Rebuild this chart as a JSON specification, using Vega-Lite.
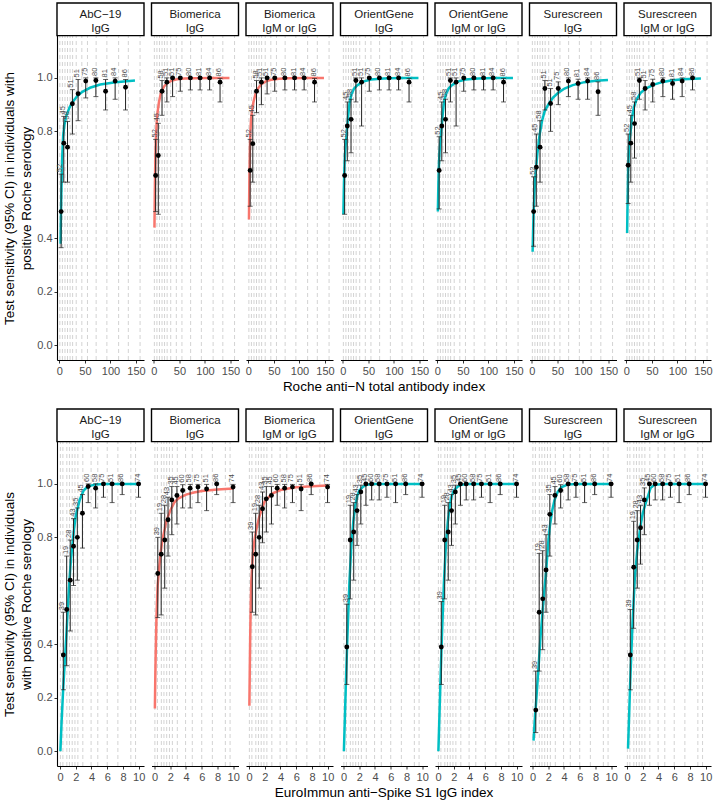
{
  "$schema": "https://vega.github.io/schema/vega-lite/v6.json",
  "background": "white",
  "padding": {"left": 2, "right": 2, "top": 2, "bottom": 2},
  "config": {
    "font": "Liberation Sans",
    "view": {"stroke": null},
    "axis": {"labelFont": "Liberation Sans", "labelFontSize": 11, "labelColor": "#4d4d4d", "labelOverlap": false, "labelFlush": false, "tickColor": "#333333", "tickSize": 3, "domainColor": "black", "domainWidth": 1.1, "titleFont": "Liberation Sans", "titleFontSize": 13.5, "titleFontWeight": "normal", "titleColor": "black", "labelPadding": 2, "titlePadding": 3, "titleLineHeight": 17, "grid": false}
  },
  "datasets": {
    "top": [
      {"t":"p1","k":"st","lab":"AbC−19\nIgG"},
      {"t":"p2","k":"st","lab":"Biomerica\nIgG"},
      {"t":"p3","k":"st","lab":"Biomerica\nIgM or IgG"},
      {"t":"p4","k":"st","lab":"OrientGene\nIgG"},
      {"t":"p5","k":"st","lab":"OrientGene\nIgM or IgG"},
      {"t":"p6","k":"st","lab":"Surescreen\nIgG"},
      {"t":"p7","k":"st","lab":"Surescreen\nIgM or IgG"},

      {"t":"p1","k":"gd","x":1},{"t":"p1","k":"gd","x":6},{"t":"p1","k":"gd","x":11},{"t":"p1","k":"gd","x":16},{"t":"p1","k":"gd","x":21},{"t":"p1","k":"gd","x":26},{"t":"p1","k":"gd","x":33},{"t":"p1","k":"gd","x":44},{"t":"p1","k":"gd","x":55},{"t":"p1","k":"gd","x":72},{"t":"p1","k":"gd","x":93},{"t":"p1","k":"gd","x":116},{"t":"p1","k":"gd","x":135},{"t":"p1","k":"gd","x":158},
      {"t":"p2","k":"gd","x":1},{"t":"p2","k":"gd","x":6},{"t":"p2","k":"gd","x":11},{"t":"p2","k":"gd","x":16},{"t":"p2","k":"gd","x":21},{"t":"p2","k":"gd","x":26},{"t":"p2","k":"gd","x":33},{"t":"p2","k":"gd","x":44},{"t":"p2","k":"gd","x":55},{"t":"p2","k":"gd","x":72},{"t":"p2","k":"gd","x":93},{"t":"p2","k":"gd","x":116},{"t":"p2","k":"gd","x":135},{"t":"p2","k":"gd","x":158},
      {"t":"p3","k":"gd","x":1},{"t":"p3","k":"gd","x":6},{"t":"p3","k":"gd","x":11},{"t":"p3","k":"gd","x":16},{"t":"p3","k":"gd","x":21},{"t":"p3","k":"gd","x":26},{"t":"p3","k":"gd","x":33},{"t":"p3","k":"gd","x":44},{"t":"p3","k":"gd","x":55},{"t":"p3","k":"gd","x":72},{"t":"p3","k":"gd","x":93},{"t":"p3","k":"gd","x":116},{"t":"p3","k":"gd","x":135},{"t":"p3","k":"gd","x":158},
      {"t":"p4","k":"gd","x":1},{"t":"p4","k":"gd","x":6},{"t":"p4","k":"gd","x":11},{"t":"p4","k":"gd","x":16},{"t":"p4","k":"gd","x":21},{"t":"p4","k":"gd","x":26},{"t":"p4","k":"gd","x":33},{"t":"p4","k":"gd","x":44},{"t":"p4","k":"gd","x":55},{"t":"p4","k":"gd","x":72},{"t":"p4","k":"gd","x":93},{"t":"p4","k":"gd","x":116},{"t":"p4","k":"gd","x":135},{"t":"p4","k":"gd","x":158},
      {"t":"p5","k":"gd","x":1},{"t":"p5","k":"gd","x":6},{"t":"p5","k":"gd","x":11},{"t":"p5","k":"gd","x":16},{"t":"p5","k":"gd","x":21},{"t":"p5","k":"gd","x":26},{"t":"p5","k":"gd","x":33},{"t":"p5","k":"gd","x":44},{"t":"p5","k":"gd","x":55},{"t":"p5","k":"gd","x":72},{"t":"p5","k":"gd","x":93},{"t":"p5","k":"gd","x":116},{"t":"p5","k":"gd","x":135},{"t":"p5","k":"gd","x":158},
      {"t":"p6","k":"gd","x":1},{"t":"p6","k":"gd","x":6},{"t":"p6","k":"gd","x":11},{"t":"p6","k":"gd","x":16},{"t":"p6","k":"gd","x":21},{"t":"p6","k":"gd","x":26},{"t":"p6","k":"gd","x":33},{"t":"p6","k":"gd","x":44},{"t":"p6","k":"gd","x":55},{"t":"p6","k":"gd","x":72},{"t":"p6","k":"gd","x":93},{"t":"p6","k":"gd","x":116},{"t":"p6","k":"gd","x":135},{"t":"p6","k":"gd","x":158},
      {"t":"p7","k":"gd","x":1},{"t":"p7","k":"gd","x":6},{"t":"p7","k":"gd","x":11},{"t":"p7","k":"gd","x":16},{"t":"p7","k":"gd","x":21},{"t":"p7","k":"gd","x":26},{"t":"p7","k":"gd","x":33},{"t":"p7","k":"gd","x":44},{"t":"p7","k":"gd","x":55},{"t":"p7","k":"gd","x":72},{"t":"p7","k":"gd","x":93},{"t":"p7","k":"gd","x":116},{"t":"p7","k":"gd","x":135},{"t":"p7","k":"gd","x":158},

      {"t":"p1","k":"pt","x":3.5,"y":0.5,"lo":0.365,"hi":0.64,"n":52},
      {"t":"p1","k":"pt","x":8.7,"y":0.756,"lo":0.61,"hi":0.856,"n":45},
      {"t":"p1","k":"pt","x":16,"y":0.741,"lo":0.61,"hi":0.837,"n":58},
      {"t":"p1","k":"pt","x":25.5,"y":0.903,"lo":0.79,"hi":0.956,"n":51},
      {"t":"p1","k":"pt","x":36.7,"y":0.941,"lo":0.84,"hi":0.994,"n":51},
      {"t":"p1","k":"pt","x":51.7,"y":0.988,"lo":0.925,"hi":1,"n":75},
      {"t":"p1","k":"pt","x":71.5,"y":0.99,"lo":0.93,"hi":1,"n":80},
      {"t":"p1","k":"pt","x":90.5,"y":0.95,"lo":0.88,"hi":0.994,"n":81},
      {"t":"p1","k":"pt","x":109.2,"y":0.988,"lo":0.92,"hi":1,"n":84},
      {"t":"p1","k":"pt","x":129.6,"y":0.965,"lo":0.88,"hi":0.994,"n":86},

      {"t":"p2","k":"pt","x":3.5,"y":0.635,"lo":0.5,"hi":0.77,"n":52},
      {"t":"p2","k":"pt","x":8.7,"y":0.71,"lo":0.49,"hi":0.83,"n":45},
      {"t":"p2","k":"pt","x":16,"y":0.95,"lo":0.86,"hi":0.99,"n":58},
      {"t":"p2","k":"pt","x":25.5,"y":0.984,"lo":0.91,"hi":1,"n":51},
      {"t":"p2","k":"pt","x":36.7,"y":1,"lo":0.93,"hi":1,"n":51},
      {"t":"p2","k":"pt","x":51.7,"y":1,"lo":0.95,"hi":1,"n":75},
      {"t":"p2","k":"pt","x":71.5,"y":1,"lo":0.955,"hi":1,"n":80},
      {"t":"p2","k":"pt","x":90.5,"y":1,"lo":0.955,"hi":1,"n":81},
      {"t":"p2","k":"pt","x":109.2,"y":1,"lo":0.955,"hi":1,"n":84},
      {"t":"p2","k":"pt","x":129.6,"y":0.984,"lo":0.91,"hi":0.998,"n":86},

      {"t":"p3","k":"pt","x":3.5,"y":0.654,"lo":0.52,"hi":0.77,"n":52},
      {"t":"p3","k":"pt","x":8.7,"y":0.754,"lo":0.61,"hi":0.86,"n":45},
      {"t":"p3","k":"pt","x":16,"y":0.95,"lo":0.87,"hi":0.99,"n":58},
      {"t":"p3","k":"pt","x":25.5,"y":0.984,"lo":0.9,"hi":1,"n":51},
      {"t":"p3","k":"pt","x":36.7,"y":1,"lo":0.94,"hi":1,"n":51},
      {"t":"p3","k":"pt","x":51.7,"y":1,"lo":0.95,"hi":1,"n":75},
      {"t":"p3","k":"pt","x":71.5,"y":1,"lo":0.955,"hi":1,"n":80},
      {"t":"p3","k":"pt","x":90.5,"y":1,"lo":0.955,"hi":1,"n":81},
      {"t":"p3","k":"pt","x":109.2,"y":1,"lo":0.955,"hi":1,"n":84},
      {"t":"p3","k":"pt","x":129.6,"y":0.984,"lo":0.91,"hi":0.998,"n":86},

      {"t":"p4","k":"pt","x":3.5,"y":0.635,"lo":0.49,"hi":0.77,"n":52},
      {"t":"p4","k":"pt","x":8.7,"y":0.82,"lo":0.69,"hi":0.91,"n":45},
      {"t":"p4","k":"pt","x":16,"y":0.845,"lo":0.72,"hi":0.92,"n":58},
      {"t":"p4","k":"pt","x":25.5,"y":0.99,"lo":0.91,"hi":1,"n":51},
      {"t":"p4","k":"pt","x":36.7,"y":0.984,"lo":0.82,"hi":1,"n":51},
      {"t":"p4","k":"pt","x":51.7,"y":1,"lo":0.95,"hi":1,"n":75},
      {"t":"p4","k":"pt","x":71.5,"y":1,"lo":0.955,"hi":1,"n":80},
      {"t":"p4","k":"pt","x":90.5,"y":1,"lo":0.955,"hi":1,"n":81},
      {"t":"p4","k":"pt","x":109.2,"y":1,"lo":0.955,"hi":1,"n":84},
      {"t":"p4","k":"pt","x":129.6,"y":0.984,"lo":0.91,"hi":0.998,"n":86},

      {"t":"p5","k":"pt","x":3.5,"y":0.654,"lo":0.51,"hi":0.78,"n":52},
      {"t":"p5","k":"pt","x":8.7,"y":0.82,"lo":0.69,"hi":0.91,"n":45},
      {"t":"p5","k":"pt","x":16,"y":0.845,"lo":0.72,"hi":0.92,"n":58},
      {"t":"p5","k":"pt","x":25.5,"y":0.99,"lo":0.91,"hi":1,"n":51},
      {"t":"p5","k":"pt","x":36.7,"y":0.984,"lo":0.82,"hi":1,"n":51},
      {"t":"p5","k":"pt","x":51.7,"y":1,"lo":0.95,"hi":1,"n":75},
      {"t":"p5","k":"pt","x":71.5,"y":1,"lo":0.955,"hi":1,"n":80},
      {"t":"p5","k":"pt","x":90.5,"y":1,"lo":0.955,"hi":1,"n":81},
      {"t":"p5","k":"pt","x":109.2,"y":1,"lo":0.955,"hi":1,"n":84},
      {"t":"p5","k":"pt","x":129.6,"y":0.984,"lo":0.91,"hi":0.998,"n":86},

      {"t":"p6","k":"pt","x":3.5,"y":0.5,"lo":0.37,"hi":0.63,"n":52},
      {"t":"p6","k":"pt","x":8.7,"y":0.666,"lo":0.52,"hi":0.79,"n":45},
      {"t":"p6","k":"pt","x":16,"y":0.741,"lo":0.61,"hi":0.84,"n":58},
      {"t":"p6","k":"pt","x":25.5,"y":0.96,"lo":0.88,"hi":0.99,"n":51},
      {"t":"p6","k":"pt","x":36.7,"y":0.904,"lo":0.8,"hi":0.96,"n":51},
      {"t":"p6","k":"pt","x":51.7,"y":0.96,"lo":0.9,"hi":0.985,"n":75},
      {"t":"p6","k":"pt","x":71.5,"y":0.988,"lo":0.93,"hi":1,"n":80},
      {"t":"p6","k":"pt","x":90.5,"y":0.979,"lo":0.92,"hi":0.995,"n":81},
      {"t":"p6","k":"pt","x":109.2,"y":0.988,"lo":0.92,"hi":1,"n":84},
      {"t":"p6","k":"pt","x":129.6,"y":0.948,"lo":0.86,"hi":0.985,"n":86},

      {"t":"p7","k":"pt","x":3.5,"y":0.673,"lo":0.53,"hi":0.79,"n":52},
      {"t":"p7","k":"pt","x":8.7,"y":0.756,"lo":0.61,"hi":0.86,"n":45},
      {"t":"p7","k":"pt","x":16,"y":0.829,"lo":0.7,"hi":0.91,"n":58},
      {"t":"p7","k":"pt","x":25.5,"y":0.99,"lo":0.92,"hi":1,"n":51},
      {"t":"p7","k":"pt","x":36.7,"y":0.96,"lo":0.88,"hi":0.99,"n":51},
      {"t":"p7","k":"pt","x":51.7,"y":0.975,"lo":0.91,"hi":0.995,"n":75},
      {"t":"p7","k":"pt","x":71.5,"y":0.988,"lo":0.93,"hi":1,"n":80},
      {"t":"p7","k":"pt","x":90.5,"y":0.979,"lo":0.92,"hi":0.995,"n":81},
      {"t":"p7","k":"pt","x":109.2,"y":0.988,"lo":0.93,"hi":1,"n":84},
      {"t":"p7","k":"pt","x":129.6,"y":1,"lo":0.955,"hi":1,"n":86},

      {"t":"p1","k":"cv","c":"teal","x":2.3,"y":0.38},
      {"t":"p1","k":"cv","c":"teal","x":3,"y":0.47},
      {"t":"p1","k":"cv","c":"teal","x":4,"y":0.58},
      {"t":"p1","k":"cv","c":"teal","x":5.5,"y":0.7},
      {"t":"p1","k":"cv","c":"teal","x":7.5,"y":0.785},
      {"t":"p1","k":"cv","c":"teal","x":10,"y":0.825},
      {"t":"p1","k":"cv","c":"teal","x":14,"y":0.86},
      {"t":"p1","k":"cv","c":"teal","x":20,"y":0.89},
      {"t":"p1","k":"cv","c":"teal","x":26,"y":0.91},
      {"t":"p1","k":"cv","c":"teal","x":35,"y":0.932},
      {"t":"p1","k":"cv","c":"teal","x":45,"y":0.948},
      {"t":"p1","k":"cv","c":"teal","x":60,"y":0.963},
      {"t":"p1","k":"cv","c":"teal","x":80,"y":0.975},
      {"t":"p1","k":"cv","c":"teal","x":110,"y":0.984},
      {"t":"p1","k":"cv","c":"teal","x":148,"y":0.99},

      {"t":"p2","k":"cv","c":"red","x":1.2,"y":0.44},
      {"t":"p2","k":"cv","c":"red","x":2,"y":0.58},
      {"t":"p2","k":"cv","c":"red","x":3,"y":0.7},
      {"t":"p2","k":"cv","c":"red","x":4,"y":0.77},
      {"t":"p2","k":"cv","c":"red","x":5.5,"y":0.83},
      {"t":"p2","k":"cv","c":"red","x":7.5,"y":0.875},
      {"t":"p2","k":"cv","c":"red","x":10,"y":0.91},
      {"t":"p2","k":"cv","c":"red","x":14,"y":0.945},
      {"t":"p2","k":"cv","c":"red","x":20,"y":0.968},
      {"t":"p2","k":"cv","c":"red","x":26,"y":0.98},
      {"t":"p2","k":"cv","c":"red","x":35,"y":0.99},
      {"t":"p2","k":"cv","c":"red","x":45,"y":0.995},
      {"t":"p2","k":"cv","c":"red","x":60,"y":0.998},
      {"t":"p2","k":"cv","c":"red","x":80,"y":0.999},
      {"t":"p2","k":"cv","c":"red","x":110,"y":1},
      {"t":"p2","k":"cv","c":"red","x":148,"y":1},

      {"t":"p3","k":"cv","c":"red","x":1.2,"y":0.47},
      {"t":"p3","k":"cv","c":"red","x":2,"y":0.62},
      {"t":"p3","k":"cv","c":"red","x":3,"y":0.74},
      {"t":"p3","k":"cv","c":"red","x":4,"y":0.8},
      {"t":"p3","k":"cv","c":"red","x":5.5,"y":0.85},
      {"t":"p3","k":"cv","c":"red","x":7.5,"y":0.88},
      {"t":"p3","k":"cv","c":"red","x":10,"y":0.91},
      {"t":"p3","k":"cv","c":"red","x":14,"y":0.94},
      {"t":"p3","k":"cv","c":"red","x":20,"y":0.963},
      {"t":"p3","k":"cv","c":"red","x":26,"y":0.977},
      {"t":"p3","k":"cv","c":"red","x":35,"y":0.988},
      {"t":"p3","k":"cv","c":"red","x":45,"y":0.993},
      {"t":"p3","k":"cv","c":"red","x":60,"y":0.997},
      {"t":"p3","k":"cv","c":"red","x":80,"y":0.999},
      {"t":"p3","k":"cv","c":"red","x":110,"y":1},
      {"t":"p3","k":"cv","c":"red","x":148,"y":1},

      {"t":"p4","k":"cv","c":"teal","x":1,"y":0.49},
      {"t":"p4","k":"cv","c":"teal","x":2,"y":0.59},
      {"t":"p4","k":"cv","c":"teal","x":3,"y":0.66},
      {"t":"p4","k":"cv","c":"teal","x":4,"y":0.71},
      {"t":"p4","k":"cv","c":"teal","x":5.5,"y":0.75},
      {"t":"p4","k":"cv","c":"teal","x":7.5,"y":0.79},
      {"t":"p4","k":"cv","c":"teal","x":10,"y":0.85},
      {"t":"p4","k":"cv","c":"teal","x":13,"y":0.905},
      {"t":"p4","k":"cv","c":"teal","x":17,"y":0.94},
      {"t":"p4","k":"cv","c":"teal","x":22,"y":0.96},
      {"t":"p4","k":"cv","c":"teal","x":28,"y":0.972},
      {"t":"p4","k":"cv","c":"teal","x":38,"y":0.985},
      {"t":"p4","k":"cv","c":"teal","x":55,"y":0.994},
      {"t":"p4","k":"cv","c":"teal","x":80,"y":0.998},
      {"t":"p4","k":"cv","c":"teal","x":110,"y":1},
      {"t":"p4","k":"cv","c":"teal","x":148,"y":1},

      {"t":"p5","k":"cv","c":"teal","x":1,"y":0.5},
      {"t":"p5","k":"cv","c":"teal","x":2,"y":0.6},
      {"t":"p5","k":"cv","c":"teal","x":3,"y":0.67},
      {"t":"p5","k":"cv","c":"teal","x":4,"y":0.715},
      {"t":"p5","k":"cv","c":"teal","x":5.5,"y":0.755},
      {"t":"p5","k":"cv","c":"teal","x":7.5,"y":0.795},
      {"t":"p5","k":"cv","c":"teal","x":10,"y":0.855},
      {"t":"p5","k":"cv","c":"teal","x":13,"y":0.91},
      {"t":"p5","k":"cv","c":"teal","x":17,"y":0.94},
      {"t":"p5","k":"cv","c":"teal","x":22,"y":0.96},
      {"t":"p5","k":"cv","c":"teal","x":28,"y":0.972},
      {"t":"p5","k":"cv","c":"teal","x":38,"y":0.985},
      {"t":"p5","k":"cv","c":"teal","x":55,"y":0.994},
      {"t":"p5","k":"cv","c":"teal","x":80,"y":0.998},
      {"t":"p5","k":"cv","c":"teal","x":110,"y":1},
      {"t":"p5","k":"cv","c":"teal","x":148,"y":1},

      {"t":"p6","k":"cv","c":"teal","x":1.5,"y":0.35},
      {"t":"p6","k":"cv","c":"teal","x":2.5,"y":0.43},
      {"t":"p6","k":"cv","c":"teal","x":3.5,"y":0.5},
      {"t":"p6","k":"cv","c":"teal","x":5,"y":0.57},
      {"t":"p6","k":"cv","c":"teal","x":6.5,"y":0.62},
      {"t":"p6","k":"cv","c":"teal","x":8.6,"y":0.67},
      {"t":"p6","k":"cv","c":"teal","x":11,"y":0.72},
      {"t":"p6","k":"cv","c":"teal","x":15,"y":0.785},
      {"t":"p6","k":"cv","c":"teal","x":20,"y":0.84},
      {"t":"p6","k":"cv","c":"teal","x":25,"y":0.875},
      {"t":"p6","k":"cv","c":"teal","x":32,"y":0.9},
      {"t":"p6","k":"cv","c":"teal","x":41,"y":0.925},
      {"t":"p6","k":"cv","c":"teal","x":52,"y":0.945},
      {"t":"p6","k":"cv","c":"teal","x":64,"y":0.96},
      {"t":"p6","k":"cv","c":"teal","x":80,"y":0.973},
      {"t":"p6","k":"cv","c":"teal","x":103,"y":0.984},
      {"t":"p6","k":"cv","c":"teal","x":125,"y":0.989},
      {"t":"p6","k":"cv","c":"teal","x":149,"y":0.992},

      {"t":"p7","k":"cv","c":"teal","x":1.5,"y":0.42},
      {"t":"p7","k":"cv","c":"teal","x":2.5,"y":0.55},
      {"t":"p7","k":"cv","c":"teal","x":3.5,"y":0.66},
      {"t":"p7","k":"cv","c":"teal","x":5,"y":0.73},
      {"t":"p7","k":"cv","c":"teal","x":6.5,"y":0.77},
      {"t":"p7","k":"cv","c":"teal","x":8.3,"y":0.8},
      {"t":"p7","k":"cv","c":"teal","x":11,"y":0.85},
      {"t":"p7","k":"cv","c":"teal","x":14.8,"y":0.89},
      {"t":"p7","k":"cv","c":"teal","x":20,"y":0.92},
      {"t":"p7","k":"cv","c":"teal","x":28,"y":0.944},
      {"t":"p7","k":"cv","c":"teal","x":38,"y":0.96},
      {"t":"p7","k":"cv","c":"teal","x":54,"y":0.975},
      {"t":"p7","k":"cv","c":"teal","x":70,"y":0.984},
      {"t":"p7","k":"cv","c":"teal","x":87,"y":0.99},
      {"t":"p7","k":"cv","c":"teal","x":110,"y":0.995},
      {"t":"p7","k":"cv","c":"teal","x":146,"y":0.998}
    ],
    "bot": [
      {"t":"p1","k":"st","lab":"AbC−19\nIgG"},
      {"t":"p2","k":"st","lab":"Biomerica\nIgG"},
      {"t":"p3","k":"st","lab":"Biomerica\nIgM or IgG"},
      {"t":"p4","k":"st","lab":"OrientGene\nIgG"},
      {"t":"p5","k":"st","lab":"OrientGene\nIgM or IgG"},
      {"t":"p6","k":"st","lab":"Surescreen\nIgG"},
      {"t":"p7","k":"st","lab":"Surescreen\nIgM or IgG"},

      {"t":"p1","k":"gd","x":0.05},{"t":"p1","k":"gd","x":0.37},{"t":"p1","k":"gd","x":0.87},{"t":"p1","k":"gd","x":1.2},{"t":"p1","k":"gd","x":1.55},{"t":"p1","k":"gd","x":1.9},{"t":"p1","k":"gd","x":2.27},{"t":"p1","k":"gd","x":2.9},{"t":"p1","k":"gd","x":3.95},{"t":"p1","k":"gd","x":4.8},{"t":"p1","k":"gd","x":6.0},{"t":"p1","k":"gd","x":7.35},{"t":"p1","k":"gd","x":9.0},{"t":"p1","k":"gd","x":9.6},
      {"t":"p2","k":"gd","x":0.05},{"t":"p2","k":"gd","x":0.37},{"t":"p2","k":"gd","x":0.87},{"t":"p2","k":"gd","x":1.2},{"t":"p2","k":"gd","x":1.55},{"t":"p2","k":"gd","x":1.9},{"t":"p2","k":"gd","x":2.27},{"t":"p2","k":"gd","x":2.9},{"t":"p2","k":"gd","x":3.95},{"t":"p2","k":"gd","x":4.8},{"t":"p2","k":"gd","x":6.0},{"t":"p2","k":"gd","x":7.35},{"t":"p2","k":"gd","x":9.0},{"t":"p2","k":"gd","x":9.6},
      {"t":"p3","k":"gd","x":0.05},{"t":"p3","k":"gd","x":0.37},{"t":"p3","k":"gd","x":0.87},{"t":"p3","k":"gd","x":1.2},{"t":"p3","k":"gd","x":1.55},{"t":"p3","k":"gd","x":1.9},{"t":"p3","k":"gd","x":2.27},{"t":"p3","k":"gd","x":2.9},{"t":"p3","k":"gd","x":3.95},{"t":"p3","k":"gd","x":4.8},{"t":"p3","k":"gd","x":6.0},{"t":"p3","k":"gd","x":7.35},{"t":"p3","k":"gd","x":9.0},{"t":"p3","k":"gd","x":9.6},
      {"t":"p4","k":"gd","x":0.05},{"t":"p4","k":"gd","x":0.37},{"t":"p4","k":"gd","x":0.87},{"t":"p4","k":"gd","x":1.2},{"t":"p4","k":"gd","x":1.55},{"t":"p4","k":"gd","x":1.9},{"t":"p4","k":"gd","x":2.27},{"t":"p4","k":"gd","x":2.9},{"t":"p4","k":"gd","x":3.95},{"t":"p4","k":"gd","x":4.8},{"t":"p4","k":"gd","x":6.0},{"t":"p4","k":"gd","x":7.35},{"t":"p4","k":"gd","x":9.0},{"t":"p4","k":"gd","x":9.6},
      {"t":"p5","k":"gd","x":0.05},{"t":"p5","k":"gd","x":0.37},{"t":"p5","k":"gd","x":0.87},{"t":"p5","k":"gd","x":1.2},{"t":"p5","k":"gd","x":1.55},{"t":"p5","k":"gd","x":1.9},{"t":"p5","k":"gd","x":2.27},{"t":"p5","k":"gd","x":2.9},{"t":"p5","k":"gd","x":3.95},{"t":"p5","k":"gd","x":4.8},{"t":"p5","k":"gd","x":6.0},{"t":"p5","k":"gd","x":7.35},{"t":"p5","k":"gd","x":9.0},{"t":"p5","k":"gd","x":9.6},
      {"t":"p6","k":"gd","x":0.05},{"t":"p6","k":"gd","x":0.37},{"t":"p6","k":"gd","x":0.87},{"t":"p6","k":"gd","x":1.2},{"t":"p6","k":"gd","x":1.55},{"t":"p6","k":"gd","x":1.9},{"t":"p6","k":"gd","x":2.27},{"t":"p6","k":"gd","x":2.9},{"t":"p6","k":"gd","x":3.95},{"t":"p6","k":"gd","x":4.8},{"t":"p6","k":"gd","x":6.0},{"t":"p6","k":"gd","x":7.35},{"t":"p6","k":"gd","x":9.0},{"t":"p6","k":"gd","x":9.6},
      {"t":"p7","k":"gd","x":0.05},{"t":"p7","k":"gd","x":0.37},{"t":"p7","k":"gd","x":0.87},{"t":"p7","k":"gd","x":1.2},{"t":"p7","k":"gd","x":1.55},{"t":"p7","k":"gd","x":1.9},{"t":"p7","k":"gd","x":2.27},{"t":"p7","k":"gd","x":2.9},{"t":"p7","k":"gd","x":3.95},{"t":"p7","k":"gd","x":4.8},{"t":"p7","k":"gd","x":6.0},{"t":"p7","k":"gd","x":7.35},{"t":"p7","k":"gd","x":9.0},{"t":"p7","k":"gd","x":9.6},

      {"t":"p1","k":"pt","x":0.42,"y":0.36,"lo":0.23,"hi":0.52,"n":39},
      {"t":"p1","k":"pt","x":0.85,"y":0.53,"lo":0.32,"hi":0.73,"n":19},
      {"t":"p1","k":"pt","x":1.3,"y":0.64,"lo":0.45,"hi":0.79,"n":28},
      {"t":"p1","k":"pt","x":1.72,"y":0.767,"lo":0.62,"hi":0.87,"n":43},
      {"t":"p1","k":"pt","x":2.2,"y":0.8,"lo":0.64,"hi":0.91,"n":35},
      {"t":"p1","k":"pt","x":2.85,"y":0.89,"lo":0.76,"hi":0.96,"n":45},
      {"t":"p1","k":"pt","x":3.58,"y":0.99,"lo":0.93,"hi":1,"n":60},
      {"t":"p1","k":"pt","x":4.53,"y":0.984,"lo":0.91,"hi":1,"n":58},
      {"t":"p1","k":"pt","x":5.52,"y":1,"lo":0.95,"hi":1,"n":75},
      {"t":"p1","k":"pt","x":6.62,"y":1,"lo":0.93,"hi":1,"n":51},
      {"t":"p1","k":"pt","x":7.9,"y":1,"lo":0.96,"hi":1,"n":86},
      {"t":"p1","k":"pt","x":9.98,"y":1,"lo":0.95,"hi":1,"n":74},

      {"t":"p2","k":"pt","x":0.42,"y":0.665,"lo":0.5,"hi":0.8,"n":39},
      {"t":"p2","k":"pt","x":0.85,"y":0.737,"lo":0.51,"hi":0.89,"n":19},
      {"t":"p2","k":"pt","x":1.3,"y":0.79,"lo":0.61,"hi":0.92,"n":28},
      {"t":"p2","k":"pt","x":1.72,"y":0.866,"lo":0.73,"hi":0.95,"n":43},
      {"t":"p2","k":"pt","x":2.2,"y":0.94,"lo":0.81,"hi":0.99,"n":35},
      {"t":"p2","k":"pt","x":2.85,"y":0.957,"lo":0.85,"hi":0.99,"n":45},
      {"t":"p2","k":"pt","x":3.58,"y":0.975,"lo":0.91,"hi":0.997,"n":60},
      {"t":"p2","k":"pt","x":4.53,"y":0.984,"lo":0.91,"hi":0.998,"n":58},
      {"t":"p2","k":"pt","x":5.52,"y":0.988,"lo":0.93,"hi":0.998,"n":75},
      {"t":"p2","k":"pt","x":6.62,"y":0.981,"lo":0.9,"hi":0.998,"n":51},
      {"t":"p2","k":"pt","x":7.9,"y":1,"lo":0.96,"hi":1,"n":86},
      {"t":"p2","k":"pt","x":9.98,"y":0.988,"lo":0.93,"hi":0.998,"n":74},

      {"t":"p3","k":"pt","x":0.42,"y":0.69,"lo":0.52,"hi":0.82,"n":39},
      {"t":"p3","k":"pt","x":0.85,"y":0.737,"lo":0.51,"hi":0.89,"n":19},
      {"t":"p3","k":"pt","x":1.3,"y":0.8,"lo":0.61,"hi":0.92,"n":28},
      {"t":"p3","k":"pt","x":1.72,"y":0.907,"lo":0.78,"hi":0.97,"n":43},
      {"t":"p3","k":"pt","x":2.2,"y":0.944,"lo":0.82,"hi":0.99,"n":35},
      {"t":"p3","k":"pt","x":2.85,"y":0.957,"lo":0.85,"hi":0.99,"n":45},
      {"t":"p3","k":"pt","x":3.58,"y":0.984,"lo":0.92,"hi":0.998,"n":60},
      {"t":"p3","k":"pt","x":4.53,"y":0.984,"lo":0.91,"hi":0.998,"n":58},
      {"t":"p3","k":"pt","x":5.52,"y":0.988,"lo":0.93,"hi":0.998,"n":75},
      {"t":"p3","k":"pt","x":6.62,"y":0.981,"lo":0.9,"hi":0.998,"n":51},
      {"t":"p3","k":"pt","x":7.9,"y":1,"lo":0.96,"hi":1,"n":86},
      {"t":"p3","k":"pt","x":9.98,"y":0.988,"lo":0.93,"hi":0.998,"n":74},

      {"t":"p4","k":"pt","x":0.42,"y":0.39,"lo":0.25,"hi":0.55,"n":39},
      {"t":"p4","k":"pt","x":0.85,"y":0.79,"lo":0.57,"hi":0.92,"n":19},
      {"t":"p4","k":"pt","x":1.3,"y":0.82,"lo":0.64,"hi":0.93,"n":28},
      {"t":"p4","k":"pt","x":1.72,"y":0.9,"lo":0.77,"hi":0.96,"n":43},
      {"t":"p4","k":"pt","x":2.2,"y":0.97,"lo":0.85,"hi":0.995,"n":35},
      {"t":"p4","k":"pt","x":2.85,"y":1,"lo":0.92,"hi":1,"n":45},
      {"t":"p4","k":"pt","x":3.58,"y":1,"lo":0.94,"hi":1,"n":60},
      {"t":"p4","k":"pt","x":4.53,"y":1,"lo":0.94,"hi":1,"n":58},
      {"t":"p4","k":"pt","x":5.52,"y":1,"lo":0.95,"hi":1,"n":75},
      {"t":"p4","k":"pt","x":6.62,"y":1,"lo":0.93,"hi":1,"n":51},
      {"t":"p4","k":"pt","x":7.9,"y":1,"lo":0.96,"hi":1,"n":86},
      {"t":"p4","k":"pt","x":9.98,"y":1,"lo":0.95,"hi":1,"n":74},

      {"t":"p5","k":"pt","x":0.42,"y":0.39,"lo":0.25,"hi":0.56,"n":39},
      {"t":"p5","k":"pt","x":0.85,"y":0.79,"lo":0.57,"hi":0.92,"n":19},
      {"t":"p5","k":"pt","x":1.3,"y":0.82,"lo":0.64,"hi":0.93,"n":28},
      {"t":"p5","k":"pt","x":1.72,"y":0.9,"lo":0.77,"hi":0.96,"n":43},
      {"t":"p5","k":"pt","x":2.2,"y":0.97,"lo":0.85,"hi":0.995,"n":35},
      {"t":"p5","k":"pt","x":2.85,"y":1,"lo":0.92,"hi":1,"n":45},
      {"t":"p5","k":"pt","x":3.58,"y":1,"lo":0.94,"hi":1,"n":60},
      {"t":"p5","k":"pt","x":4.53,"y":1,"lo":0.94,"hi":1,"n":58},
      {"t":"p5","k":"pt","x":5.52,"y":1,"lo":0.95,"hi":1,"n":75},
      {"t":"p5","k":"pt","x":6.62,"y":1,"lo":0.93,"hi":1,"n":51},
      {"t":"p5","k":"pt","x":7.9,"y":1,"lo":0.96,"hi":1,"n":86},
      {"t":"p5","k":"pt","x":9.98,"y":1,"lo":0.95,"hi":1,"n":74},

      {"t":"p6","k":"pt","x":0.42,"y":0.154,"lo":0.07,"hi":0.3,"n":39},
      {"t":"p6","k":"pt","x":0.85,"y":0.52,"lo":0.3,"hi":0.74,"n":19},
      {"t":"p6","k":"pt","x":1.3,"y":0.57,"lo":0.38,"hi":0.75,"n":28},
      {"t":"p6","k":"pt","x":1.72,"y":0.678,"lo":0.52,"hi":0.81,"n":43},
      {"t":"p6","k":"pt","x":2.2,"y":0.886,"lo":0.73,"hi":0.96,"n":35},
      {"t":"p6","k":"pt","x":2.85,"y":0.957,"lo":0.85,"hi":0.99,"n":45},
      {"t":"p6","k":"pt","x":3.58,"y":0.975,"lo":0.91,"hi":0.997,"n":60},
      {"t":"p6","k":"pt","x":4.53,"y":1,"lo":0.94,"hi":1,"n":58},
      {"t":"p6","k":"pt","x":5.52,"y":1,"lo":0.95,"hi":1,"n":75},
      {"t":"p6","k":"pt","x":6.62,"y":1,"lo":0.93,"hi":1,"n":51},
      {"t":"p6","k":"pt","x":7.9,"y":1,"lo":0.96,"hi":1,"n":86},
      {"t":"p6","k":"pt","x":9.98,"y":1,"lo":0.95,"hi":1,"n":74},

      {"t":"p7","k":"pt","x":0.42,"y":0.36,"lo":0.23,"hi":0.53,"n":39},
      {"t":"p7","k":"pt","x":0.85,"y":0.688,"lo":0.46,"hi":0.86,"n":19},
      {"t":"p7","k":"pt","x":1.3,"y":0.79,"lo":0.61,"hi":0.9,"n":28},
      {"t":"p7","k":"pt","x":1.72,"y":0.836,"lo":0.7,"hi":0.92,"n":43},
      {"t":"p7","k":"pt","x":2.2,"y":0.94,"lo":0.81,"hi":0.985,"n":35},
      {"t":"p7","k":"pt","x":2.85,"y":1,"lo":0.92,"hi":1,"n":45},
      {"t":"p7","k":"pt","x":3.58,"y":1,"lo":0.94,"hi":1,"n":60},
      {"t":"p7","k":"pt","x":4.53,"y":1,"lo":0.94,"hi":1,"n":58},
      {"t":"p7","k":"pt","x":5.52,"y":1,"lo":0.95,"hi":1,"n":75},
      {"t":"p7","k":"pt","x":6.62,"y":1,"lo":0.93,"hi":1,"n":51},
      {"t":"p7","k":"pt","x":7.9,"y":1,"lo":0.96,"hi":1,"n":86},
      {"t":"p7","k":"pt","x":9.98,"y":1,"lo":0.95,"hi":1,"n":74},

      {"t":"p1","k":"cv","c":"teal","x":0.05,"y":0},
      {"t":"p1","k":"cv","c":"teal","x":0.2,"y":0.11},
      {"t":"p1","k":"cv","c":"teal","x":0.4,"y":0.23},
      {"t":"p1","k":"cv","c":"teal","x":0.6,"y":0.33},
      {"t":"p1","k":"cv","c":"teal","x":0.8,"y":0.43},
      {"t":"p1","k":"cv","c":"teal","x":1,"y":0.54},
      {"t":"p1","k":"cv","c":"teal","x":1.2,"y":0.64},
      {"t":"p1","k":"cv","c":"teal","x":1.4,"y":0.72},
      {"t":"p1","k":"cv","c":"teal","x":1.6,"y":0.78},
      {"t":"p1","k":"cv","c":"teal","x":1.8,"y":0.835},
      {"t":"p1","k":"cv","c":"teal","x":2,"y":0.88},
      {"t":"p1","k":"cv","c":"teal","x":2.5,"y":0.94},
      {"t":"p1","k":"cv","c":"teal","x":3,"y":0.975},
      {"t":"p1","k":"cv","c":"teal","x":3.5,"y":0.99},
      {"t":"p1","k":"cv","c":"teal","x":4.5,"y":0.998},
      {"t":"p1","k":"cv","c":"teal","x":6,"y":1},
      {"t":"p1","k":"cv","c":"teal","x":8,"y":1},
      {"t":"p1","k":"cv","c":"teal","x":10.1,"y":1},

      {"t":"p2","k":"cv","c":"red","x":0.05,"y":0.16},
      {"t":"p2","k":"cv","c":"red","x":0.1,"y":0.27},
      {"t":"p2","k":"cv","c":"red","x":0.15,"y":0.36},
      {"t":"p2","k":"cv","c":"red","x":0.25,"y":0.5},
      {"t":"p2","k":"cv","c":"red","x":0.4,"y":0.62},
      {"t":"p2","k":"cv","c":"red","x":0.6,"y":0.69},
      {"t":"p2","k":"cv","c":"red","x":0.8,"y":0.745},
      {"t":"p2","k":"cv","c":"red","x":1,"y":0.79},
      {"t":"p2","k":"cv","c":"red","x":1.5,"y":0.86},
      {"t":"p2","k":"cv","c":"red","x":2,"y":0.9},
      {"t":"p2","k":"cv","c":"red","x":2.5,"y":0.93},
      {"t":"p2","k":"cv","c":"red","x":3,"y":0.945},
      {"t":"p2","k":"cv","c":"red","x":4,"y":0.96},
      {"t":"p2","k":"cv","c":"red","x":5,"y":0.968},
      {"t":"p2","k":"cv","c":"red","x":6,"y":0.973},
      {"t":"p2","k":"cv","c":"red","x":8,"y":0.979},
      {"t":"p2","k":"cv","c":"red","x":10,"y":0.983},

      {"t":"p3","k":"cv","c":"red","x":0.05,"y":0.17},
      {"t":"p3","k":"cv","c":"red","x":0.1,"y":0.3},
      {"t":"p3","k":"cv","c":"red","x":0.15,"y":0.42},
      {"t":"p3","k":"cv","c":"red","x":0.22,"y":0.55},
      {"t":"p3","k":"cv","c":"red","x":0.3,"y":0.64},
      {"t":"p3","k":"cv","c":"red","x":0.5,"y":0.74},
      {"t":"p3","k":"cv","c":"red","x":0.7,"y":0.79},
      {"t":"p3","k":"cv","c":"red","x":1,"y":0.84},
      {"t":"p3","k":"cv","c":"red","x":1.3,"y":0.876},
      {"t":"p3","k":"cv","c":"red","x":1.6,"y":0.905},
      {"t":"p3","k":"cv","c":"red","x":2,"y":0.935},
      {"t":"p3","k":"cv","c":"red","x":3,"y":0.965},
      {"t":"p3","k":"cv","c":"red","x":4,"y":0.977},
      {"t":"p3","k":"cv","c":"red","x":5,"y":0.983},
      {"t":"p3","k":"cv","c":"red","x":6,"y":0.987},
      {"t":"p3","k":"cv","c":"red","x":8,"y":0.991},
      {"t":"p3","k":"cv","c":"red","x":10,"y":0.994},

      {"t":"p4","k":"cv","c":"teal","x":0.05,"y":0},
      {"t":"p4","k":"cv","c":"teal","x":0.2,"y":0.15},
      {"t":"p4","k":"cv","c":"teal","x":0.3,"y":0.25},
      {"t":"p4","k":"cv","c":"teal","x":0.5,"y":0.43},
      {"t":"p4","k":"cv","c":"teal","x":0.75,"y":0.63},
      {"t":"p4","k":"cv","c":"teal","x":1,"y":0.77},
      {"t":"p4","k":"cv","c":"teal","x":1.25,"y":0.86},
      {"t":"p4","k":"cv","c":"teal","x":1.5,"y":0.92},
      {"t":"p4","k":"cv","c":"teal","x":1.75,"y":0.955},
      {"t":"p4","k":"cv","c":"teal","x":2,"y":0.975},
      {"t":"p4","k":"cv","c":"teal","x":2.5,"y":0.99},
      {"t":"p4","k":"cv","c":"teal","x":3,"y":0.997},
      {"t":"p4","k":"cv","c":"teal","x":4,"y":1},
      {"t":"p4","k":"cv","c":"teal","x":6,"y":1},
      {"t":"p4","k":"cv","c":"teal","x":8,"y":1},
      {"t":"p4","k":"cv","c":"teal","x":10,"y":1},

      {"t":"p5","k":"cv","c":"teal","x":0.05,"y":0},
      {"t":"p5","k":"cv","c":"teal","x":0.2,"y":0.15},
      {"t":"p5","k":"cv","c":"teal","x":0.3,"y":0.25},
      {"t":"p5","k":"cv","c":"teal","x":0.5,"y":0.43},
      {"t":"p5","k":"cv","c":"teal","x":0.75,"y":0.63},
      {"t":"p5","k":"cv","c":"teal","x":1,"y":0.77},
      {"t":"p5","k":"cv","c":"teal","x":1.25,"y":0.86},
      {"t":"p5","k":"cv","c":"teal","x":1.5,"y":0.92},
      {"t":"p5","k":"cv","c":"teal","x":1.75,"y":0.955},
      {"t":"p5","k":"cv","c":"teal","x":2,"y":0.975},
      {"t":"p5","k":"cv","c":"teal","x":2.5,"y":0.99},
      {"t":"p5","k":"cv","c":"teal","x":3,"y":0.997},
      {"t":"p5","k":"cv","c":"teal","x":4,"y":1},
      {"t":"p5","k":"cv","c":"teal","x":6,"y":1},
      {"t":"p5","k":"cv","c":"teal","x":8,"y":1},
      {"t":"p5","k":"cv","c":"teal","x":10,"y":1},

      {"t":"p6","k":"cv","c":"teal","x":0.13,"y":0.04},
      {"t":"p6","k":"cv","c":"teal","x":0.3,"y":0.12},
      {"t":"p6","k":"cv","c":"teal","x":0.5,"y":0.2},
      {"t":"p6","k":"cv","c":"teal","x":0.8,"y":0.33},
      {"t":"p6","k":"cv","c":"teal","x":1,"y":0.42},
      {"t":"p6","k":"cv","c":"teal","x":1.3,"y":0.53},
      {"t":"p6","k":"cv","c":"teal","x":1.5,"y":0.6},
      {"t":"p6","k":"cv","c":"teal","x":1.75,"y":0.68},
      {"t":"p6","k":"cv","c":"teal","x":2,"y":0.78},
      {"t":"p6","k":"cv","c":"teal","x":2.2,"y":0.84},
      {"t":"p6","k":"cv","c":"teal","x":2.5,"y":0.9},
      {"t":"p6","k":"cv","c":"teal","x":2.8,"y":0.94},
      {"t":"p6","k":"cv","c":"teal","x":3.2,"y":0.97},
      {"t":"p6","k":"cv","c":"teal","x":3.65,"y":0.987},
      {"t":"p6","k":"cv","c":"teal","x":4.5,"y":0.998},
      {"t":"p6","k":"cv","c":"teal","x":6,"y":1},
      {"t":"p6","k":"cv","c":"teal","x":8,"y":1},
      {"t":"p6","k":"cv","c":"teal","x":10,"y":1},

      {"t":"p7","k":"cv","c":"teal","x":0.13,"y":0.01},
      {"t":"p7","k":"cv","c":"teal","x":0.4,"y":0.25},
      {"t":"p7","k":"cv","c":"teal","x":0.7,"y":0.48},
      {"t":"p7","k":"cv","c":"teal","x":1,"y":0.65},
      {"t":"p7","k":"cv","c":"teal","x":1.3,"y":0.75},
      {"t":"p7","k":"cv","c":"teal","x":1.7,"y":0.84},
      {"t":"p7","k":"cv","c":"teal","x":2,"y":0.89},
      {"t":"p7","k":"cv","c":"teal","x":2.4,"y":0.93},
      {"t":"p7","k":"cv","c":"teal","x":3,"y":0.985},
      {"t":"p7","k":"cv","c":"teal","x":3.5,"y":0.997},
      {"t":"p7","k":"cv","c":"teal","x":5,"y":1},
      {"t":"p7","k":"cv","c":"teal","x":7,"y":1},
      {"t":"p7","k":"cv","c":"teal","x":10,"y":1}
    ]
  },
  "vconcat": [
    {
      "data": {"name": "top"},
      "facet": {"column": {"field": "t", "type": "nominal", "title": "Roche anti−N total antibody index",
        "header": {"labels": false, "titleOrient": "bottom", "titleFont": "Liberation Sans", "titleFontSize": 13.5, "titleFontWeight": "normal", "titleColor": "black", "titlePadding": -6}}},
      "spacing": 7.5,
      "bounds": "flush",
      "spec": {
        "width": 87, "height": 357,
        "layer": [
          {"transform": [{"filter": "datum.k==='gd'"}],
           "mark": {"type": "rule", "strokeDash": [4, 3], "color": "#d3d3d3", "strokeWidth": 1},
           "encoding": {
             "x": {"field": "x", "type": "quantitative", "scale": {"domain": [-4.6, 165.7], "nice": false, "zero": false}, "axis": {"values": [0, 50, 100, 150], "tickCount": 20, "format": "d", "title": null, "labelOverlap": false, "labelFlush": false}},
             "y": {"datum": -0.055, "type": "quantitative", "scale": {"domain": [-0.055, 1.28], "nice": false, "zero": false}, "axis": {"values": [0, 0.2, 0.4, 0.8, 1], "tickCount": 20, "format": ".1f", "labelOverlap": false, "title": ["Test sensitivity (95% CI) in individuals with", "positive Roche serology"], "titleY": 195}},
             "y2": {"datum": 1.158}}},
          {"transform": [{"filter": "datum.k==='cv'"}],
           "mark": {"type": "line", "strokeWidth": 2.5},
           "encoding": {
             "x": {"field": "x", "type": "quantitative"},
             "y": {"field": "y", "type": "quantitative"},
             "color": {"field": "c", "type": "nominal", "scale": {"domain": ["teal", "red"], "range": ["#00BFC4", "#F8766D"]}, "legend": null}}},
          {"transform": [{"filter": "datum.k==='pt'"}],
           "mark": {"type": "rule", "color": "#222222", "strokeWidth": 1},
           "encoding": {"x": {"field": "x", "type": "quantitative"}, "y": {"field": "lo", "type": "quantitative"}, "y2": {"field": "hi"}}},
          {"transform": [{"filter": "datum.k==='pt'"}],
           "mark": {"type": "tick", "orient": "horizontal", "size": 5, "thickness": 1, "color": "#222222"},
           "encoding": {"x": {"field": "x", "type": "quantitative"}, "y": {"field": "lo", "type": "quantitative"}}},
          {"transform": [{"filter": "datum.k==='pt'"}],
           "mark": {"type": "tick", "orient": "horizontal", "size": 5, "thickness": 1, "color": "#222222"},
           "encoding": {"x": {"field": "x", "type": "quantitative"}, "y": {"field": "hi", "type": "quantitative"}}},
          {"transform": [{"filter": "datum.k==='pt'"}],
           "mark": {"type": "circle", "size": 24, "opacity": 1, "color": "black"},
           "encoding": {"x": {"field": "x", "type": "quantitative"}, "y": {"field": "y", "type": "quantitative"}}},
          {"transform": [{"filter": "datum.k==='pt'"}],
           "mark": {"type": "text", "angle": 270, "align": "left", "baseline": "middle", "fontSize": 7.5, "color": "#4d4d4d", "dx": 2, "dy": -1},
           "encoding": {"x": {"field": "x", "type": "quantitative"}, "y": {"field": "hi", "type": "quantitative"}, "text": {"field": "n", "type": "nominal"}}},
          {"transform": [{"filter": "datum.k==='st'"}],
           "mark": {"type": "rect", "fill": "white", "stroke": "black", "strokeWidth": 1.4},
           "encoding": {"x": {"datum": -4.6, "type": "quantitative"}, "x2": {"datum": 165.7}, "y": {"datum": 1.158, "type": "quantitative"}, "y2": {"datum": 1.28}}},
          {"transform": [{"filter": "datum.k==='st'"}],
           "mark": {"type": "text", "lineBreak": "\n", "fontSize": 11.5, "lineHeight": 13.5, "color": "#1a1a1a", "baseline": "middle", "align": "center"},
           "encoding": {"x": {"datum": 80.5, "type": "quantitative"}, "y": {"datum": 1.234, "type": "quantitative"}, "text": {"field": "lab", "type": "nominal"}}}
        ]
      }
    },
    {
      "data": {"name": "bot"},
      "facet": {"column": {"field": "t", "type": "nominal", "title": "EuroImmun anti−Spike S1 IgG index",
        "header": {"labels": false, "titleOrient": "bottom", "titleFont": "Liberation Sans", "titleFontSize": 13.5, "titleFontWeight": "normal", "titleColor": "black", "titlePadding": -6}}},
      "spacing": 7.5,
      "bounds": "flush",
      "spec": {
        "width": 87, "height": 357,
        "layer": [
          {"transform": [{"filter": "datum.k==='gd'"}],
           "mark": {"type": "rule", "strokeDash": [4, 3], "color": "#d3d3d3", "strokeWidth": 1},
           "encoding": {
             "x": {"field": "x", "type": "quantitative", "scale": {"domain": [-0.38, 10.67], "nice": false, "zero": false}, "axis": {"values": [0, 2, 4, 6, 8, 10], "tickCount": 20, "format": "d", "title": null, "labelOverlap": false, "labelFlush": false}},
             "y": {"datum": -0.055, "type": "quantitative", "scale": {"domain": [-0.055, 1.28], "nice": false, "zero": false}, "axis": {"values": [0, 0.2, 0.4, 0.8, 1], "tickCount": 20, "format": ".1f", "labelOverlap": false, "title": ["Test sensitivity (95% CI) in individuals", "with positive Roche serology"], "titleY": 195}},
             "y2": {"datum": 1.158}}},
          {"transform": [{"filter": "datum.k==='cv'"}],
           "mark": {"type": "line", "strokeWidth": 2.5},
           "encoding": {
             "x": {"field": "x", "type": "quantitative"},
             "y": {"field": "y", "type": "quantitative"},
             "color": {"field": "c", "type": "nominal", "scale": {"domain": ["teal", "red"], "range": ["#00BFC4", "#F8766D"]}, "legend": null}}},
          {"transform": [{"filter": "datum.k==='pt'"}],
           "mark": {"type": "rule", "color": "#222222", "strokeWidth": 1},
           "encoding": {"x": {"field": "x", "type": "quantitative"}, "y": {"field": "lo", "type": "quantitative"}, "y2": {"field": "hi"}}},
          {"transform": [{"filter": "datum.k==='pt'"}],
           "mark": {"type": "tick", "orient": "horizontal", "size": 5, "thickness": 1, "color": "#222222"},
           "encoding": {"x": {"field": "x", "type": "quantitative"}, "y": {"field": "lo", "type": "quantitative"}}},
          {"transform": [{"filter": "datum.k==='pt'"}],
           "mark": {"type": "tick", "orient": "horizontal", "size": 5, "thickness": 1, "color": "#222222"},
           "encoding": {"x": {"field": "x", "type": "quantitative"}, "y": {"field": "hi", "type": "quantitative"}}},
          {"transform": [{"filter": "datum.k==='pt'"}],
           "mark": {"type": "circle", "size": 24, "opacity": 1, "color": "black"},
           "encoding": {"x": {"field": "x", "type": "quantitative"}, "y": {"field": "y", "type": "quantitative"}}},
          {"transform": [{"filter": "datum.k==='pt'"}],
           "mark": {"type": "text", "angle": 270, "align": "left", "baseline": "middle", "fontSize": 7.5, "color": "#4d4d4d", "dx": 2, "dy": -1},
           "encoding": {"x": {"field": "x", "type": "quantitative"}, "y": {"field": "hi", "type": "quantitative"}, "text": {"field": "n", "type": "nominal"}}},
          {"transform": [{"filter": "datum.k==='st'"}],
           "mark": {"type": "rect", "fill": "white", "stroke": "black", "strokeWidth": 1.4},
           "encoding": {"x": {"datum": -0.38, "type": "quantitative"}, "x2": {"datum": 10.67}, "y": {"datum": 1.158, "type": "quantitative"}, "y2": {"datum": 1.28}}},
          {"transform": [{"filter": "datum.k==='st'"}],
           "mark": {"type": "text", "lineBreak": "\n", "fontSize": 11.5, "lineHeight": 13.5, "color": "#1a1a1a", "baseline": "middle", "align": "center"},
           "encoding": {"x": {"datum": 5.145, "type": "quantitative"}, "y": {"datum": 1.234, "type": "quantitative"}, "text": {"field": "lab", "type": "nominal"}}}
        ]
      }
    }
  ],
  "spacing": 14
}
